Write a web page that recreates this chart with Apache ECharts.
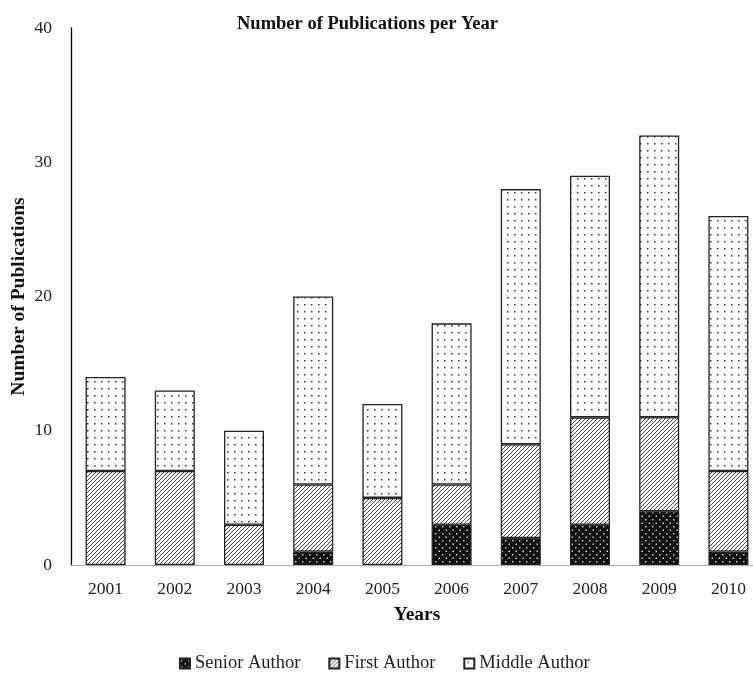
<!DOCTYPE html>
<html><head><meta charset="utf-8">
<script src="https://cdn.jsdelivr.net/npm/echarts@6/dist/echarts.min.js"></script>
<style>html,body{margin:0;padding:0;background:#fff}#c{width:753px;height:673px}</style>
</head><body><div id="c"></div>
<script>
var years = ['2001','2002','2003','2004','2005','2006','2007','2008','2009','2010'];
var seniorAuthor = [0,0,0,1,0,3,2,3,4,1];
var firstAuthor = [7,7,3,5,5,3,7,8,7,6];
var middleAuthor = [7,6,7,14,7,12,19,18,21,19];
var yTicks = [0,10,20,30,40];

function tile(w,h,draw){var c=document.createElement('canvas');c.width=w;c.height=h;var g=c.getContext('2d');draw(g,w,h);return {image:c,repeat:'repeat'};}
var seniorPat = tile(7,7,function(g,w,h){g.fillStyle='#111';g.fillRect(0,0,w,h);g.fillStyle='#ccc';g.fillRect(1,1,1.5,1.5);g.fillRect(4.5,4.5,1.5,1.5);});
var firstPat = tile(4,4,function(g,w,h){g.fillStyle='#fff';g.fillRect(0,0,w,h);g.strokeStyle='#333';g.lineWidth=0.9;g.beginPath();g.moveTo(-1,5);g.lineTo(5,-1);g.moveTo(-1,1);g.lineTo(1,-1);g.moveTo(3,5);g.lineTo(5,3);g.stroke();});
var middlePat = tile(7,7,function(g,w,h){g.fillStyle='#fff';g.fillRect(0,0,w,h);g.fillStyle='#333';g.fillRect(3,3,1.5,1.5);});

function nz(arr){return arr.map(function(v){return v===0?null:v;});}
var font = 'Liberation Serif';
var chart = echarts.init(document.getElementById('c'));
function ser(name,data,pat){return {name:name,type:'bar',stack:'a',data:nz(data),barWidth:40,
  itemStyle:{color:pat,borderColor:'#222',borderWidth:1.3},emphasis:{disabled:true}};}
chart.setOption({
  animation:false,
  title:{text:'Number of Publications per Year',left:232,top:10,textStyle:{fontFamily:font,fontWeight:'bold',fontSize:18.5,color:'#111'}},
  grid:{left:71,right:-10,top:28,bottom:108,outerBoundsMode:'none',containLabel:false},
  legend:{top:649,left:174,icon:'rect',itemWidth:10,itemHeight:10,itemGap:28,
    textStyle:{fontFamily:font,fontSize:18.5,color:'#222'},data:['Senior Author','First Author','Middle Author']},
  xAxis:{type:'category',data:years,name:'Years',nameLocation:'middle',nameGap:40,nameMoveOverlap:false,
    nameTextStyle:{fontFamily:font,fontWeight:'bold',fontSize:19.5,color:'#111'},
    axisLine:{lineStyle:{color:'#aaa',width:1.2}},axisTick:{show:false},
    axisLabel:{fontFamily:font,fontSize:17.5,color:'#222',margin:15}},
  yAxis:{type:'value',min:0,max:40,interval:10,name:'Number of Publications',nameLocation:'middle',nameGap:42,nameMoveOverlap:false,
    nameTextStyle:{fontFamily:font,fontWeight:'bold',fontSize:19.5,color:'#111'},
    axisLine:{show:true,lineStyle:{color:'#000',width:1.3}},axisTick:{show:false},splitLine:{show:false},
    axisLabel:{fontFamily:font,fontSize:17.5,color:'#222',margin:19,formatter:function(v){return yTicks.indexOf(v)>=0?String(v):'';}}},
  series:[ser('Senior Author',seniorAuthor,seniorPat),ser('First Author',firstAuthor,firstPat),ser('Middle Author',middleAuthor,middlePat)]
});
</script></body></html>
